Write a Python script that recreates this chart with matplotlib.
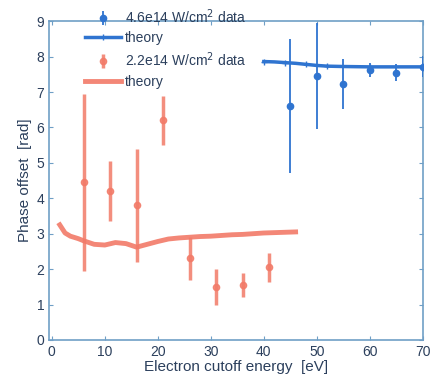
import matplotlib
matplotlib.use("Agg")
import matplotlib.pyplot as plt

# high intensity data (blue)
hi_x = [45, 50, 55, 60, 65, 70]
hi_y = [6.6, 7.45, 7.22, 7.62, 7.55, 7.72]
hi_err = [1.9, 1.5, 0.7, 0.2, 0.25, 0.3]
hi_th_x = [40, 42, 44, 46, 48, 50, 52, 55, 60, 65, 70]
hi_th_y = [7.86, 7.85, 7.83, 7.81, 7.78, 7.75, 7.73, 7.72, 7.71, 7.71, 7.71]

# low intensity data (red)
lo_x = [6, 11, 16, 21, 26, 31, 36, 41]
lo_y = [4.45, 4.2, 3.8, 6.2, 2.3, 1.5, 1.55, 2.05]
lo_err = [2.5, 0.85, 1.6, 0.7, 0.6, 0.5, 0.35, 0.4]
lo_th_x = [1.5, 2.5, 3.5, 5, 6, 8, 10, 12, 14, 16, 18, 20, 22, 24, 26,
           28, 30, 32, 34, 36, 38, 40, 42, 44, 46]
lo_th_y = [3.25, 3.02, 2.93, 2.86, 2.8, 2.7, 2.68, 2.75, 2.72, 2.62, 2.7,
           2.78, 2.85, 2.88, 2.9, 2.92, 2.93, 2.95, 2.97, 2.98, 3.0, 3.02,
           3.03, 3.04, 3.05]

blue = "#2f74d0"
red = "#f27a68"
axcol = "#6f9fc6"
txtcol = "#2b3f5c"

plt.rcParams["font.family"] = ["Liberation Sans", "DejaVu Sans"]
plt.rcParams["font.size"] = 9.5

fig = plt.figure(figsize=(4.35, 3.85), dpi=100)
ax = fig.add_axes([0.113, 0.117, 0.859, 0.828])

h1 = ax.errorbar(hi_x, hi_y, yerr=hi_err, fmt="o", color=blue, ms=4.5,
                 elinewidth=1.3, capsize=0, zorder=4)
h2, = ax.plot(hi_th_x, hi_th_y, color=blue, lw=2.5, marker="+", ms=4,
              markevery=2, zorder=3)
h3 = ax.errorbar(lo_x, lo_y, yerr=lo_err, fmt="o", color=red, ms=4.5,
                 elinewidth=2.5, capsize=0, alpha=0.85, zorder=4)
h4, = ax.plot(lo_th_x, lo_th_y, color=red, lw=3.5, alpha=0.9, zorder=3)

ax.set_xlim(-0.5, 70)
ax.set_ylim(0, 9)
ax.set_xticks(range(0, 71, 10))
ax.set_yticks(range(0, 10))
ax.tick_params(direction="in", top=True, right=True, colors=axcol,
               labelcolor=txtcol, length=3, labelsize=10)
for s in ax.spines.values():
    s.set_color(axcol)
    s.set_linewidth(1.2)

ax.set_xlabel("Electron cutoff energy  [eV]", color=txtcol, fontsize=11,
              labelpad=1)
ax.set_ylabel("Phase offset  [rad]", color=txtcol, fontsize=11, labelpad=3)

leg = ax.legend([h1, h2, h3, h4],
                ["4.6e14 W/cm$^2$ data", "theory",
                 "2.2e14 W/cm$^2$ data", "theory"],
                loc="upper left", bbox_to_anchor=(0.07, 1.075), frameon=False,
                handlelength=2.6, labelspacing=0.4, borderpad=0.2,
                handletextpad=0.3, fontsize=10)
for t in leg.get_texts():
    t.set_color(txtcol)

fig.savefig("out.png", dpi=100, facecolor="white")
